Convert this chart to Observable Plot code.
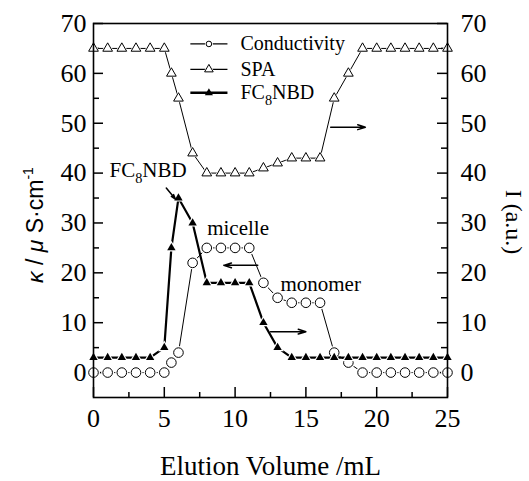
<!DOCTYPE html>
<html>
<head>
<meta charset="utf-8">
<script src="https://cdn.jsdelivr.net/npm/d3@7"></script>
<script src="https://cdn.jsdelivr.net/npm/@observablehq/plot@0.6"></script>
<style>
  body { margin: 0; background: #fff; }
  #chart svg { display: block; }
</style>
</head>
<body>
<div id="chart"></div>
<script>
// ---- data ----
const volume       = [0, 1, 2, 3, 4, 5, 5.5, 6, 7, 8, 9, 10, 11, 12, 13, 14, 15, 16, 17, 18, 19, 20, 21, 22, 23, 24, 25];
const conductivity = [0, 0, 0, 0, 0, 0, 2, 4, 22, 25, 25, 25, 25, 18, 15, 14, 14, 14, 4, 2, 0, 0, 0, 0, 0, 0, 0];
const spa          = [65, 65, 65, 65, 65, 65, 60, 55, 44, 40, 40, 40, 40, 41, 42, 43, 43, 43, 55, 60, 65, 65, 65, 65, 65, 65, 65];
const fc8nbd       = [3, 3, 3, 3, 3, 5, 25, 35, 30, 18, 18, 18, 18, 10, 5, 3, 3, 3, 3, 3, 3, 3, 3, 3, 3, 3, 3];

const seriesNames = ["Conductivity", "SPA", "FC8NBD"];
const xTicks = [0, 5, 10, 15, 20, 25];
const xMinorTicks = [2.5, 7.5, 12.5, 17.5, 22.5];
const yTicks = [0, 10, 20, 30, 40, 50, 60, 70];
const yMinorTicks = [5, 15, 25, 35, 45, 55, 65];

const labelTexts = ["FC8NBD", "micelle", "monomer"];
const labelX = [1.13, 8.03, 13.2];
const labelY = [39.2, 27.6, 16.3];

// arrows: [x1, y1, x2, y2]
const arrowX1 = [16.75, 11.6, 12.5, 5.14];
const arrowY1 = [49.2, 21.5, 8.2, 37.0];
const arrowX2 = [19.2, 9.2, 15.0, 5.78];
const arrowY2 = [49.2, 21.5, 8.2, 34.8];

// ---- layout ----
const W = 529, H = 481;
const M = {top: 23, right: 82, bottom: 84, left: 93};
const frameW = W - M.left - M.right;
const frameH = H - M.top - M.bottom;
const serif = "'Liberation Serif', 'Times New Roman', Times, serif";
const sans = "'Liberation Sans', Arial, Helvetica, sans-serif";
const legendLayout = {x1: 6.84, xm: 8.15, x2: 9.46, xt: 10.38, rows: [65.9, 60.8, 56.1]};

const rows = volume.map((v, i) => ({v, c: conductivity[i], s: spa[i], f: fc8nbd[i]}));
const labels = labelTexts.map((t, i) => ({t, x: labelX[i], y: labelY[i]}));
const arrows = arrowX1.map((x1, i) => ({x1, y1: arrowY1[i], x2: arrowX2[i], y2: arrowY2[i]}));
const legend = seriesNames.map((name, i) => ({name, y: legendLayout.rows[i]}));

const chart = Plot.plot({
  width: W,
  height: H,
  marginTop: M.top,
  marginRight: M.right,
  marginBottom: M.bottom,
  marginLeft: M.left,
  style: {fontFamily: serif, fontSize: "26px", color: "black", background: "white"},
  x: {domain: [0, 25], axis: null},
  y: {domain: [-5, 70], axis: null},
  marks: [
    // inward ticks
    Plot.tickX(xTicks, {x: d => d, insetTop: frameH - 10, stroke: "black", strokeWidth: 1.5}),
    Plot.tickX(xMinorTicks, {x: d => d, insetTop: frameH - 5, stroke: "black", strokeWidth: 1.5}),
    Plot.tickY(yTicks, {y: d => d, insetRight: frameW - 10, stroke: "black", strokeWidth: 1.5}),
    Plot.tickY(yMinorTicks, {y: d => d, insetRight: frameW - 6, stroke: "black", strokeWidth: 1.5}),
    Plot.tickY(yTicks, {y: d => d, insetLeft: frameW - 10, stroke: "black", strokeWidth: 1.5}),
    Plot.tickY(yMinorTicks, {y: d => d, insetLeft: frameW - 6, stroke: "black", strokeWidth: 1.5}),
    // tick labels
    Plot.axisX({ticks: xTicks, tickSize: 0, tickPadding: 11, fontSize: 26, fontFamily: serif, tickFormat: d => String(d)}),
    Plot.axisY({ticks: yTicks, anchor: "left", tickSize: 0, tickPadding: 7, fontSize: 26, fontFamily: serif, tickFormat: d => String(d)}),
    Plot.axisY({ticks: yTicks, anchor: "right", tickSize: 0, tickPadding: 13, fontSize: 26, fontFamily: serif, tickFormat: d => String(d)}),

    // Conductivity
    Plot.line(rows, {x: "v", y: "c", stroke: "black", strokeWidth: 1}),
    Plot.dot(rows, {x: "v", y: "c", r: 6.5, fill: "white", stroke: null}),
    Plot.dot(rows, {x: "v", y: "c", r: 4.8, fill: "white", stroke: "black", strokeWidth: 1}),
    // SPA
    Plot.line(rows, {x: "v", y: "s", stroke: "black", strokeWidth: 1}),
    Plot.dot(rows, {x: "v", y: "s", symbol: "triangle", r: 5, fill: "white", stroke: null}),
    Plot.dot(rows, {x: "v", y: "s", symbol: "triangle", r: 3.6, fill: "white", stroke: "black", strokeWidth: 1}),
    // FC8NBD
    Plot.line(rows, {x: "v", y: "f", stroke: "black", strokeWidth: 2.2}),
    Plot.dot(rows, {x: "v", y: "f", symbol: "triangle", r: 4.6, fill: "white", stroke: null}),
    Plot.dot(rows, {x: "v", y: "f", symbol: "triangle", r: 3.1, fill: "black", stroke: null}),

    // annotations
    Plot.arrow(arrows, {x1: "x1", y1: "y1", x2: "x2", y2: "y2", stroke: "black", strokeWidth: 1.5, headLength: 8, headAngle: 35}),
    Plot.text(labels, {x: "x", y: "y", text: "t", textAnchor: "start", lineAnchor: "bottom", fontSize: 21, fontFamily: serif, fill: "black"}),

    // legend
    Plot.link(legend, {x1: legendLayout.x1, x2: legendLayout.x2, y1: "y", y2: "y", stroke: "black",
      strokeWidth: (d, i) => i === 2 ? 2.4 : 1.3}),
    Plot.dot(legend.slice(0, 1), {x: legendLayout.xm, y: "y", r: 4, fill: "white", stroke: null}),
    Plot.dot(legend.slice(0, 1), {x: legendLayout.xm, y: "y", r: 2.8, fill: "white", stroke: "black", strokeWidth: 1}),
    Plot.dot(legend.slice(1, 2), {x: legendLayout.xm, y: "y", symbol: "triangle", r: 4.4, fill: "white", stroke: null}),
    Plot.dot(legend.slice(1, 2), {x: legendLayout.xm, y: "y", symbol: "triangle", r: 3.2, fill: "white", stroke: "black", strokeWidth: 1}),
    Plot.dot(legend.slice(2, 3), {x: legendLayout.xm, y: "y", symbol: "triangle", r: 3, fill: "black", stroke: null}),
    Plot.text(legend, {x: legendLayout.xt, y: "y", text: "name", textAnchor: "start", fontSize: 20, fontFamily: serif, fill: "black"}),

    // x axis title
    Plot.text(["Elution Volume /mL"], {frameAnchor: "bottom", lineAnchor: "bottom", dy: 77, fontSize: 27, fontFamily: serif, fill: "black"}),

    Plot.frame({stroke: "black", strokeWidth: 1.6})
  ]
});

// rich text: subscripts
d3.select(chart).selectAll("text").each(function() {
  const t = d3.select(this);
  if (this.textContent === "FC8NBD") {
    const fs = parseFloat(t.attr("font-size")) || 21;
    t.text(null);
    t.append("tspan").text("FC");
    t.append("tspan").attr("dy", 0.28 * fs).attr("font-size", 0.68 * fs).text("8");
    t.append("tspan").attr("dy", -0.28 * fs).text("NBD");
  }
});

// rotated y-axis titles
const svg = d3.select(chart);
const leftTitle = svg.append("text")
  .attr("transform", "translate(43,225) rotate(-90)")
  .attr("text-anchor", "middle")
  .attr("font-family", sans)
  .attr("font-size", 23)
  .attr("fill", "black");
leftTitle.append("tspan").attr("font-style", "italic").text("κ");
leftTitle.append("tspan").text(" / ");
leftTitle.append("tspan").attr("font-style", "italic").text("μ");
leftTitle.append("tspan").text(" S·cm");
leftTitle.append("tspan").attr("dy", -10).attr("font-size", 14).text("-1");

svg.append("text")
  .attr("transform", "translate(506,222) rotate(90)")
  .attr("text-anchor", "middle")
  .attr("font-family", serif)
  .attr("font-size", 24)
  .attr("fill", "black")
  .text("I (a.u.)");

document.getElementById("chart").appendChild(chart);
</script>
</body>
</html>
